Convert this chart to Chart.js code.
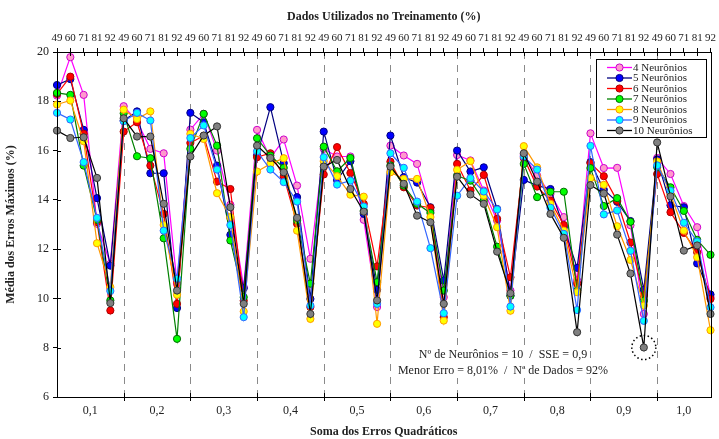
<!DOCTYPE html>
<html lang="pt">
<head>
    <meta charset="UTF-8">
    <title>Média dos Erros Máximos</title>
    <style>
        html, body {
            margin: 0;
            padding: 0;
            background: #fff;
        }
        #wrap {
            position: relative;
            width: 719px;
            height: 439px;
        }
    </style>
</head>
<body>
    <div id="wrap">
        <canvas id="errosChart" width="719" height="439"></canvas>
    </div>

    <script src="https://cdn.jsdelivr.net/npm/chart.js"></script>
    <script>
        // % de dados usados no treinamento (eixo de cima), repetido em cada grupo de SSE
        const dadosTreino = ['49', '60', '71', '81', '92'];
        const sseLabels = ['0,1', '0,2', '0,3', '0,4', '0,5', '0,6', '0,7', '0,8', '0,9', '1,0'];
        const yTicks = [6, 8, 10, 12, 14, 16, 18, 20];

        const nomes = ['4 Neurônios', '5 Neurônios', '6 Neurônios', '7 Neurônios',
                       '8 Neurônios', '9 Neurônios', '10 Neurônios'];

        const neur4 = [18.23, 19.79, 18.26, 13.03, 11.40,  17.80, 17.20, 16.07, 15.89, 10.60,
                       16.85, 17.49, 16.00, 13.80, 10.46,  16.84, 15.70, 16.45, 14.58, 11.61,
                       16.07, 15.76, 15.76, 13.19, 9.65,   16.20, 15.80, 15.46, 13.56, 10.05,
                       15.82, 15.60, 14.38, 13.16, 10.32,  15.82, 14.98, 14.24, 13.30, 10.73,
                       16.70, 15.29, 15.30, 12.97, 9.37,   15.70, 15.05, 13.75, 12.89, 10.05];
        const neur5 = [18.66, 18.90, 16.84, 14.07, 11.33,  17.22, 17.59, 15.08, 15.08, 9.61,
                       17.53, 17.15, 15.39, 12.58, 10.41,  15.80, 17.76, 15.49, 14.11, 9.98,
                       16.77, 14.80, 15.57, 13.43, 10.35,  16.61, 14.92, 14.70, 13.70, 10.73,
                       16.00, 15.15, 15.32, 13.63, 10.11,  14.81, 14.58, 14.44, 12.89, 11.24,
                       15.53, 14.41, 13.92, 13.14, 10.35,  15.64, 13.78, 13.70, 11.42, 10.16];
        const neur6 = [18.30, 19.00, 16.68, 13.10, 9.51,   16.77, 17.15, 15.39, 13.43, 9.78,
                       16.31, 16.60, 14.74, 14.44, 9.91,   15.73, 15.89, 14.95, 13.03, 9.65,
                       15.03, 16.14, 15.09, 13.84, 11.30,  15.55, 14.51, 13.77, 13.68, 9.24,
                       15.46, 14.38, 15.01, 13.23, 10.86,  15.70, 14.54, 13.97, 12.98, 10.60,
                       15.49, 14.96, 13.96, 12.27, 10.12,  15.05, 13.50, 12.66, 11.87, 9.98];
        const neur7 = [18.34, 18.26, 15.39, 13.19, 9.92,   17.51, 15.77, 15.69, 12.44, 8.36,
                       16.07, 17.49, 16.20, 12.35, 10.05,  16.50, 15.80, 15.30, 13.16, 10.60,
                       16.16, 15.16, 15.70, 13.56, 10.66,  15.40, 14.58, 13.84, 13.47, 10.32,
                       14.98, 14.78, 13.97, 12.10, 10.11,  15.46, 14.11, 14.33, 14.33, 10.32,
                       15.29, 13.75, 14.07, 13.11, 9.91,   15.33, 14.51, 13.55, 12.38, 11.77];
        const neur8 = [17.87, 18.03, 16.38, 12.24, 10.46,  17.66, 17.28, 17.59, 12.98, 10.15,
                       16.68, 16.47, 14.27, 13.30, 9.47,   15.15, 15.46, 15.69, 12.75, 9.17,
                       15.57, 14.96, 14.21, 14.13, 8.97,   15.12, 14.85, 14.85, 13.30, 9.10,
                       15.22, 15.57, 14.17, 12.89, 9.50,   16.18, 15.32, 13.84, 12.75, 10.25,
                       14.88, 14.61, 12.93, 11.56, 9.71,   15.56, 14.23, 12.75, 11.67, 8.71];
        const neur9 = [17.53, 17.26, 15.53, 13.27, 10.30,  17.19, 17.53, 17.22, 12.75, 10.80,
                       16.51, 17.02, 15.23, 12.98, 9.24,   15.97, 15.23, 14.72, 13.93, 9.71,
                       15.73, 14.62, 14.78, 13.73, 9.78,   15.89, 15.30, 13.93, 12.04, 9.40,
                       14.17, 14.88, 14.34, 13.61, 9.67,   15.76, 15.23, 13.68, 12.62, 9.53,
                       16.19, 13.41, 13.57, 11.93, 9.09,   15.40, 14.37, 13.07, 12.31, 9.64];
        const neur10 = [16.81, 16.51, 16.54, 14.89, 9.81,  17.31, 16.57, 16.57, 13.84, 10.32,
                        15.76, 16.61, 16.98, 13.70, 9.78,  16.20, 15.70, 15.12, 13.27, 9.37,
                        15.35, 15.62, 14.44, 13.52, 9.92,  15.35, 14.65, 13.36, 13.09, 9.78,
                        14.94, 14.22, 13.84, 11.90, 10.21, 15.89, 14.74, 13.43, 12.46, 8.63,
                        14.60, 14.26, 12.59, 11.01, 8.01,  16.33, 14.14, 11.94, 12.15, 9.37];

        const series = [neur4, neur5, neur6, neur7, neur8, neur9, neur10];
        const linhas = ['#ff00ff', '#000080', '#ff0000', '#008000', '#ff9900', '#3366ff', '#000000'];
        const preench = ['#ff99cc', '#0000ff', '#ff0000', '#00ff00', '#ffff00', '#00ffff', '#808080'];
        const bordas = ['#cc00cc', '#000080', '#aa0000', '#006600', '#ff9900', '#3366ff', '#333333'];

        const serif = '"Liberation Serif", "DejaVu Serif", serif';
        const nPontos = neur4.length;
        const tamGrupo = dadosTreino.length;

        const topLabels = [];
        for (let i = 0; i < nPontos; i++) topLabels.push(dadosTreino[i % tamGrupo]);

        // limites e centros de cada grupo de SSE
        const limites = [];
        const centros = [];
        for (let g = 0; g < sseLabels.length; g++) {
            if (g > 0) limites.push(g * tamGrupo);
            centros.push((g * tamGrupo + Math.min((g + 1) * tamGrupo, nPontos - 1)) / 2);
        }

        const notas = ['Nº de Neurônios = 10  /  SSE = 0,9',
                       'Menor Erro = 8,01%  /  Nª de Dados = 92%'];

        function linha(ctx, x1, y1, x2, y2) {
            ctx.beginPath();
            ctx.moveTo(x1, y1);
            ctx.lineTo(x2, y2);
            ctx.stroke();
        }

        const extras = {
            id: 'extras',
            beforeDatasetsDraw(chart) {
                const { ctx, chartArea: a, scales } = chart;
                ctx.save();
                ctx.strokeStyle = '#8a8a8a';
                ctx.lineWidth = 1;
                ctx.setLineDash([7, 6]);
                limites.forEach(v => {
                    const x = Math.round(scales.x.getPixelForValue(v)) + 0.5;
                    linha(ctx, x, a.top, x, a.bottom);
                });
                ctx.setLineDash([]);

                // fundo branco do texto do melhor resultado
                ctx.font = '12px ' + serif;
                ctx.fillStyle = '#fff';
                notas.forEach((t, i) => {
                    const w = ctx.measureText(t).width;
                    ctx.fillRect(503 - w / 2 - 2, 348 + i * 16, w + 4, 14);
                });
                ctx.restore();
            },
            afterDraw(chart) {
                const { ctx, chartArea: a, scales } = chart;
                ctx.save();
                ctx.strokeStyle = '#000';
                ctx.lineWidth = 1;
                ctx.strokeRect(Math.round(a.left) + 0.5, Math.round(a.top) + 0.5,
                               Math.round(a.right - a.left), Math.round(a.bottom - a.top));

                // marcas que cruzam os eixos
                limites.forEach(v => {
                    const x = Math.round(scales.x.getPixelForValue(v)) + 0.5;
                    linha(ctx, x, a.bottom - 4, x, a.bottom + 4);
                });
                for (let i = 0; i < nPontos; i++) {
                    const x = Math.round(scales.xTop.getPixelForValue(i)) + 0.5;
                    linha(ctx, x, a.top, x, a.top + 4);
                }
                yTicks.forEach(v => {
                    const y = Math.round(scales.y.getPixelForValue(v)) + 0.5;
                    linha(ctx, a.left, y, a.left + 4, y);
                });

                // círculo pontilhado no menor erro
                let iMin = 0;
                neur10.forEach((v, i) => { if (v < neur10[iMin]) iMin = i; });
                const cx = scales.x.getPixelForValue(iMin);
                const cy = scales.y.getPixelForValue(neur10[iMin]);
                ctx.setLineDash([1.5, 2.5]);
                ctx.lineWidth = 1.5;
                ctx.beginPath();
                ctx.arc(cx, cy, 12, 0, Math.PI * 2);
                ctx.stroke();
                ctx.setLineDash([]);

                // texto do melhor resultado
                ctx.fillStyle = '#222';
                ctx.font = '12px ' + serif;
                ctx.textAlign = 'center';
                ctx.textBaseline = 'middle';
                notas.forEach((t, i) => ctx.fillText(t, 503, 355 + i * 16));

                // legenda
                const lx = 596.5, ly = 59.5, lw = 110, lh = 78;
                ctx.fillStyle = '#fff';
                ctx.fillRect(lx, ly, lw, lh);
                ctx.strokeStyle = '#000';
                ctx.lineWidth = 1;
                ctx.strokeRect(lx, ly, lw, lh);
                ctx.textAlign = 'left';
                ctx.font = '11px ' + serif;
                nomes.forEach((nome, i) => {
                    const y = 67.5 + i * 10.5;
                    ctx.strokeStyle = linhas[i];
                    ctx.lineWidth = 1.3;
                    linha(ctx, 607, y, 632, y);
                    ctx.beginPath();
                    ctx.arc(619.5, y, 3.6, 0, Math.PI * 2);
                    ctx.fillStyle = preench[i];
                    ctx.fill();
                    ctx.strokeStyle = bordas[i];
                    ctx.lineWidth = 1;
                    ctx.stroke();
                    ctx.fillStyle = '#222';
                    ctx.fillText(nome, 633, y + 0.5);
                });
                ctx.restore();
            }
        };

        const datasets = series.map((valores, i) => ({
            label: nomes[i],
            data: valores.map((v, j) => ({ x: j, y: v })),
            borderColor: linhas[i],
            borderWidth: 1.2,
            pointRadius: 3.6,
            pointBorderWidth: 1,
            pointBackgroundColor: preench[i],
            pointBorderColor: bordas[i],
            tension: 0,
            clip: false,
            order: series.length - 1 - i
        }));

        new Chart(document.getElementById('errosChart'), {
            type: 'line',
            data: { datasets: datasets },
            plugins: [extras],
            options: {
                responsive: false,
                animation: false,
                events: [],
                layout: { padding: { right: 7 } },
                plugins: {
                    legend: { display: false },
                    tooltip: { enabled: false }
                },
                scales: {
                    x: {
                        type: 'linear',
                        position: 'bottom',
                        min: 0,
                        max: nPontos - 1,
                        afterBuildTicks: scale => {
                            scale.ticks = centros.map(v => ({ value: v }));
                        },
                        afterFit: scale => { scale.height = 42; },
                        grid: { display: false, drawTicks: false },
                        border: { display: false },
                        ticks: {
                            autoSkip: false,
                            maxRotation: 0,
                            padding: 7,
                            color: '#222',
                            font: { family: serif, size: 12 },
                            callback: (v, i) => sseLabels[i]
                        },
                        title: {
                            display: true,
                            text: 'Soma dos Erros Quadráticos',
                            color: '#222',
                            padding: { top: 0, bottom: 0 },
                            font: { family: serif, size: 12, weight: 'bold' }
                        }
                    },
                    xTop: {
                        type: 'linear',
                        position: 'top',
                        min: 0,
                        max: nPontos - 1,
                        afterBuildTicks: scale => {
                            scale.ticks = topLabels.map((t, i) => ({ value: i }));
                        },
                        afterFit: scale => { scale.height = 52; },
                        grid: { drawOnChartArea: false, tickLength: 4, color: '#000' },
                        border: { display: false },
                        ticks: {
                            autoSkip: false,
                            maxRotation: 0,
                            minRotation: 0,
                            padding: 3,
                            color: '#222',
                            font: { family: serif, size: 11 },
                            callback: (v, i) => topLabels[i]
                        },
                        title: {
                            display: true,
                            text: 'Dados Utilizados no Treinamento (%)',
                            color: '#222',
                            padding: { top: 10, bottom: 0 },
                            font: { family: serif, size: 12, weight: 'bold' }
                        }
                    },
                    y: {
                        min: 6,
                        max: 20,
                        afterBuildTicks: scale => {
                            scale.ticks = yTicks.map(v => ({ value: v }));
                        },
                        afterFit: scale => { scale.width = 57; },
                        grid: { drawOnChartArea: false, tickLength: 4, color: '#000' },
                        border: { display: false },
                        ticks: {
                            padding: 4,
                            color: '#222',
                            font: { family: serif, size: 12 }
                        },
                        title: {
                            display: true,
                            text: 'Média dos Erros Máximos (%)',
                            color: '#222',
                            padding: { top: 4, bottom: 0 },
                            font: { family: serif, size: 12, weight: 'bold' }
                        }
                    }
                }
            }
        });
    </script>
</body>
</html>
